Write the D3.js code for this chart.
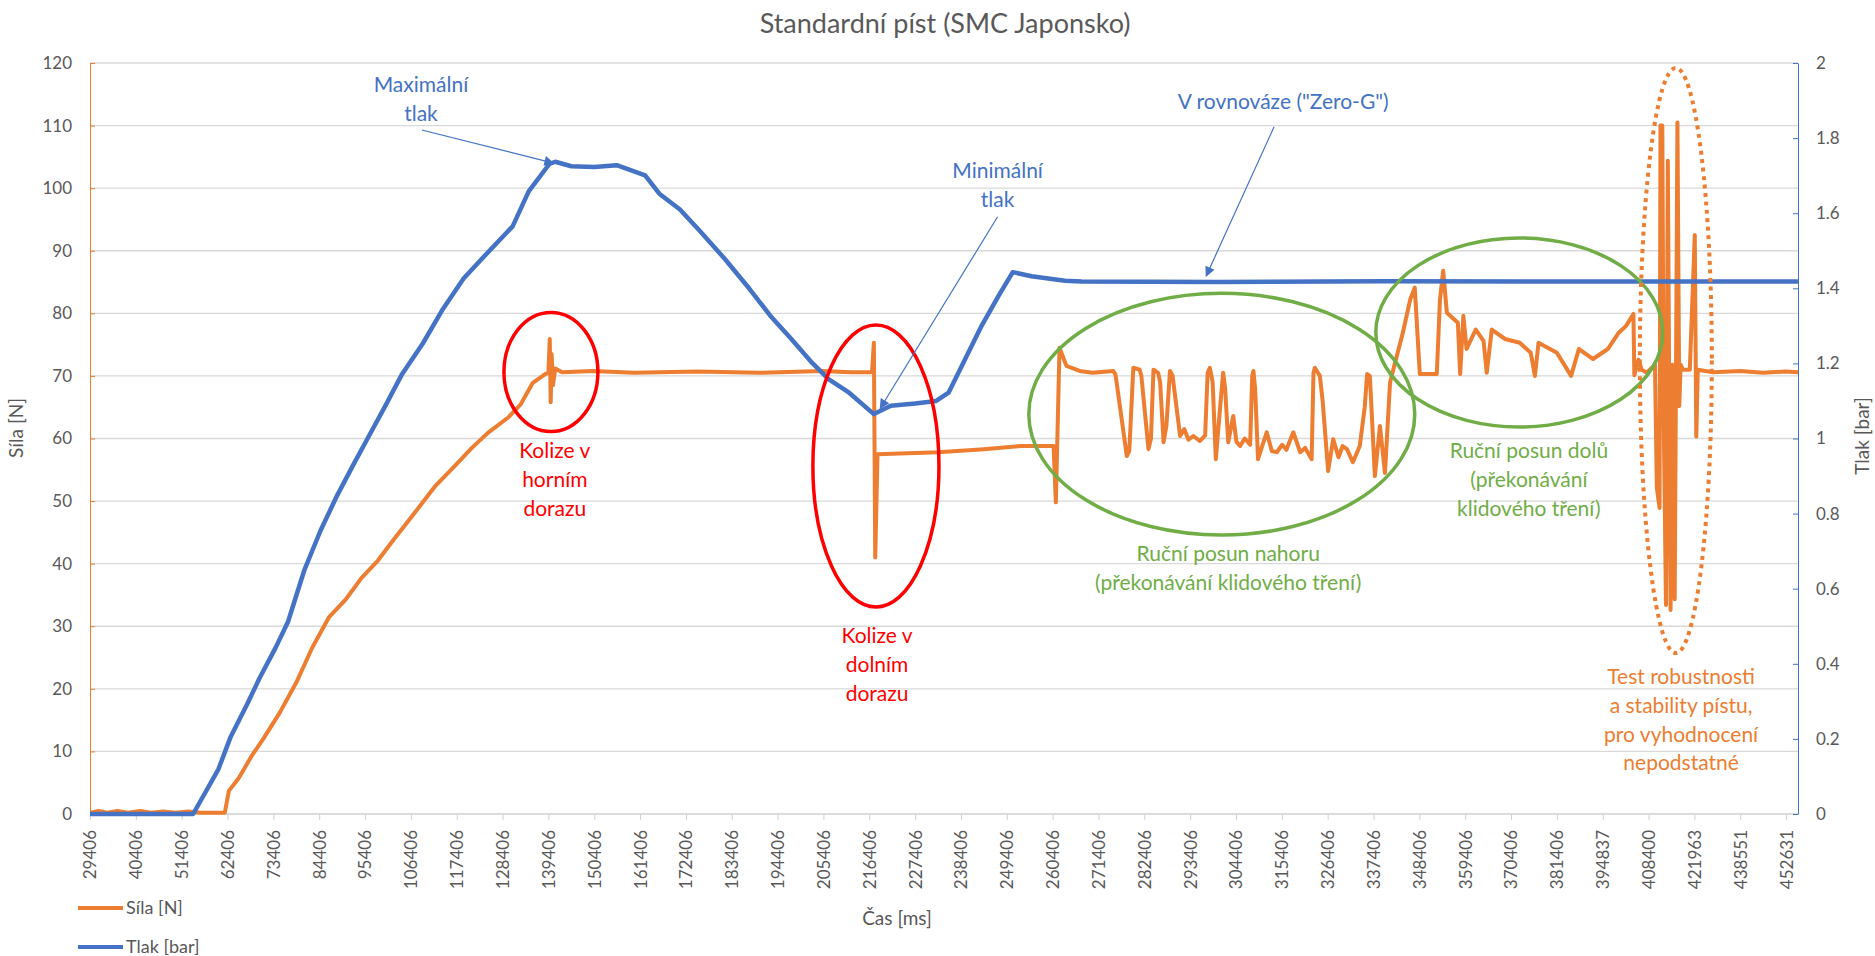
<!DOCTYPE html>
<html><head><meta charset="utf-8">
<script src="https://cdn.jsdelivr.net/npm/d3@7"></script>
<style>
body{margin:0;background:#fff;}
svg text{font-family:Lato,"Open Sans",sans-serif;}
</style></head><body>
<svg id="c" width="1875" height="956"></svg>
<script>
// ---------- data ----------
const timeLabels = [29406,40406,51406,62406,73406,84406,95406,106406,117406,128406,139406,150406,161406,172406,183406,194406,205406,216406,227406,238406,249406,260406,271406,282406,293406,304406,315406,326406,337406,348406,359406,370406,381406,394837,408400,421963,438551,452631];
const forceTicks = [0,10,20,30,40,50,60,70,80,90,100,110,120];
const pressureTicks = [0,0.2,0.4,0.6,0.8,1,1.2,1.4,1.6,1.8,2];

// Tlak [bar] (right axis)
const tlak = [[29406,0],[54156,0],[60206,0.119],[63176,0.206],[67136,0.293],[70106,0.362],[73956,0.443],[76926,0.512],[80886,0.651],[84736,0.755],[88696,0.848],[92546,0.929],[96506,1.010],[100466,1.091],[104316,1.172],[109266,1.253],[114106,1.345],[119056,1.426],[123896,1.484],[128846,1.542],[130826,1.565],[134676,1.658],[139626,1.731],[141056,1.737],[144906,1.725],[150406,1.723],[155796,1.728],[162616,1.701],[166026,1.652],[170976,1.61],[175706,1.553],[181756,1.478],[187696,1.398],[192646,1.327],[197706,1.265],[202656,1.202],[206616,1.158],[211566,1.122],[217506,1.065],[221576,1.087],[227406,1.093],[232466,1.1],[235436,1.122],[239396,1.211],[243356,1.3],[247426,1.38],[250836,1.443],[255346,1.432],[263376,1.42],[267336,1.418],[300000,1.417],[340000,1.419],[400000,1.418],[456292,1.418]];

// Síla [N] (left axis)
const sila = [[29406,0.2],[31500,0.5],[33500,0.2],[36000,0.5],[38500,0.2],[41500,0.5],[44000,0.2],[47000,0.4],[50000,0.2],[53000,0.4],[56000,0.2],[61746,0.2],[62736,3.7],[65156,5.8],[68126,9.2],[70986,12.0],[74946,16.2],[78906,21.0],[82756,26.6],[86716,31.4],[90676,34.2],[94526,37.7],[98486,40.5],[102336,43.9],[107286,48.1],[112126,52.3],[117076,55.7],[121036,58.5],[124886,60.9],[129836,63.4],[132696,65.4],[135666,68.9],[138636,70.3],[139406,70.5],[139736,75.9],[139956,65.8],[140176,73.5],[140506,68.5],[141056,71.2],[142706,70.6],[150000,70.8],[160000,70.5],[175000,70.7],[190000,70.5],[205000,70.8],[212000,70.6],[217066,70.6],[217506,75.3],[217836,41],[218386,57.5],[232906,57.8],[243906,58.3],[252706,58.8],[260626,58.8],[261176,49.8],[262056,74.5],[263706,71.6],[266896,70.8],[270000,70.5],[274926,70.8],[275500,70.2],[278200,57.2],[278800,58],[279766,71.3],[281306,71],[281700,70],[283396,58.3],[284000,60],[284606,71],[285706,70.5],[286200,69],[287026,59.4],[287700,62],[288566,70.8],[289200,70],[290986,60.4],[292000,61.5],[293000,59.8],[294176,60.4],[295716,59.6],[297000,60.5],[297600,70.5],[298136,71.3],[298800,69],[299566,56.7],[300556,64.7],[301326,70.5],[301800,68],[302536,59.4],[303746,63.6],[304500,59.5],[305396,58.8],[306500,60],[307800,59],[308300,70],[308586,70.8],[309000,68],[309686,56.7],[311776,61],[313000,58],[314196,57.8],[315500,59],[316500,58.2],[318156,61],[319806,57.8],[321000,58.5],[322556,56.7],[323000,70.5],[323326,71.3],[324536,70],[325200,66],[326516,54.8],[327726,59.9],[329000,57],[330000,58.8],[331026,58.3],[332456,56.2],[334106,58.8],[335300,65],[335866,70.3],[336526,70],[337736,54],[338946,62],[340156,54.5],[341366,68.9],[342136,71],[344446,76.9],[346206,82.2],[347306,84.1],[348516,70.3],[352586,70.3],[353356,82.2],[354126,86.8],[355006,80.1],[357646,78.5],[358196,70.3],[358966,79.6],[359736,74.3],[361936,77.4],[363806,75.6],[364576,70.5],[365786,77.4],[368976,75.9],[372496,75.3],[375136,73.7],[376126,70],[377006,75.3],[381406,73.7],[385570,70],[387853,74.3],[392017,72.7],[396329,74.3],[399584,76.9],[401754,78],[403924,79.9],[404195,70.1],[405416,72.6],[406366,71],[407858,70.5],[410299,71.8],[410841,52.2],[411655,48.9],[411926,110],[412469,110],[412876,63.6],[413554,33.4],[414097,104.4],[414910,32.6],[415453,71.8],[416131,34.3],[416945,110.5],[417487,65.2],[417894,71.8],[418572,71],[420607,71],[422099,92.5],[422641,60.3],[423184,71],[428745,70.6],[438551,70.8],[445591,70.5],[452631,70.7],[456292,70.6]];

// annotations (data space)
const ellipses = [
 {t1:128736,t2:151286,v1:80.15,v2:61.1,color:"#FF0000",dotted:false},
 {t1:202876,t2:233126,v1:78.14,v2:33.08,color:"#FF0000",dotted:false},
 {t1:254686,t2:347306,v1:83.2,v2:44.58,color:"#70AD47",dotted:false},
 {t1:337956,t2:412605,v1:92.04,v2:61.84,color:"#70AD47",dotted:false},
 {t1:405823,t2:428266,v1:119.2,v2:25.73,color:"#ED7D31",dotted:true}
];
const notes = [
 {t:108826,v:116.5,color:"#4472C4",lines:["Maximální","tlak"]},
 {t:247206,v:102.75,color:"#4472C4",lines:["Minimální","tlak"]},
 {t:315736,v:113.77,color:"#4472C4",lines:["V rovnováze (\"Zero-G\")"]},
 {t:140946,v:58.0,color:"#FF0000",lines:["Kolize v","horním","dorazu"]},
 {t:218276,v:28.44,color:"#FF0000",lines:["Kolize v","dolním","dorazu"]},
 {t:302536,v:41.54,color:"#70AD47",lines:["Ruční posun nahoru","(překonávání klidového tření)"]},
 {t:374696,v:58.0,color:"#70AD47",lines:["Ruční posun dolů","(překonávání","klidového tření)"]},
 {t:418030,v:21.89,color:"#ED7D31",lines:["Test robustnosti","a stability pístu,","pro vyhodnocení","nepodstatné"]}
];
const arrows = [
 {t1:109046,v1:109.3,t2:140616,v2:104.0},
 {t1:247206,v1:95.44,t2:219046,v2:64.83},
 {t1:313536,v1:109.8,t2:297256,v2:85.97}
];

// ---------- layout ----------
const X0=90, XR=1798, YB=814, YT=63, STEP=(1786.08-90)/37;
const GRAY="#595959", ORANGE="#ED7D31", BLUE="#4472C4";
const svg=d3.select("#c");

const x=d3.scaleLinear().domain(timeLabels).range(timeLabels.map((d,i)=>X0+i*STEP));
const yL=d3.scaleLinear().domain([0,120]).range([YB,YT]);
const yR=d3.scaleLinear().domain([0,2]).range([YB,YT]);

// defs
const defs=svg.append("defs");
defs.append("marker").attr("id","ah").attr("viewBox","0 0 10 10").attr("refX",9).attr("refY",5)
 .attr("markerWidth",13).attr("markerHeight",10).attr("markerUnits","userSpaceOnUse").attr("orient","auto")
 .append("path").attr("d","M0,0L10,5L0,10Z").attr("fill",BLUE);
defs.append("clipPath").attr("id","pc").append("rect").attr("x",X0).attr("y",YT-10).attr("width",XR-X0).attr("height",YB-YT+20);

// title
svg.append("text").attr("x",945).attr("y",24).attr("dy","0.35em").attr("text-anchor","middle")
 .attr("font-size",27).attr("fill",GRAY).text("Standardní píst (SMC Japonsko)");

// gridlines
svg.append("g").selectAll("line").data(forceTicks.filter(d=>d>0)).join("line")
 .attr("x1",X0).attr("x2",XR).attr("y1",d=>yL(d)).attr("y2",d=>yL(d))
 .attr("stroke","#d9d9d9").attr("stroke-width",1.3);

// bottom axis
const gx=svg.append("g").attr("transform",`translate(0,${YB})`)
 .call(d3.axisBottom(x).tickValues(timeLabels).tickSizeInner(6).tickSizeOuter(0).tickFormat(d=>String(d)));
gx.select(".domain").remove();
gx.selectAll(".tick line").attr("stroke","#d0d0d0");
gx.selectAll(".tick text").attr("transform","rotate(-90)").attr("x",-16).attr("y",0).attr("dy","0.35em")
 .attr("text-anchor","end").attr("font-size",17).attr("fill",GRAY);
svg.append("line").attr("x1",X0).attr("x2",XR).attr("y1",YB).attr("y2",YB).attr("stroke","#d0d0d0").attr("stroke-width",1.5);

// left axis
const gl=svg.append("g").attr("transform",`translate(${X0},0)`)
 .call(d3.axisLeft(yL).tickValues(forceTicks).tickSizeInner(-5).tickSizeOuter(0).tickPadding(18));
gl.select(".domain").attr("stroke",ORANGE);
gl.selectAll(".tick line").attr("stroke",ORANGE);
gl.selectAll(".tick text").attr("font-size",17).attr("fill",GRAY);

// right axis
const gr=svg.append("g").attr("transform",`translate(${XR},0)`)
 .call(d3.axisRight(yR).tickValues(pressureTicks).tickSizeInner(-5).tickSizeOuter(0).tickPadding(18)
 .tickFormat(d=>String(+d.toFixed(1))));
gr.select(".domain").attr("stroke",BLUE);
gr.selectAll(".tick line").attr("stroke",BLUE);
gr.selectAll(".tick text").attr("font-size",17).attr("fill",GRAY);

// axis titles
svg.append("text").attr("transform","translate(16,428) rotate(-90)").attr("text-anchor","middle").attr("dy","0.35em")
 .attr("font-size",19).attr("fill",GRAY).text("Síla [N]");
svg.append("text").attr("transform","translate(1862,436) rotate(-90)").attr("text-anchor","middle").attr("dy","0.35em")
 .attr("font-size",19).attr("fill",GRAY).text("Tlak [bar]");
svg.append("text").attr("x",897).attr("y",918).attr("text-anchor","middle").attr("dy","0.35em")
 .attr("font-size",19).attr("fill",GRAY).text("Čas [ms]");

// series
const plot=svg.append("g").attr("clip-path","url(#pc)");
plot.append("path").datum(sila).attr("fill","none").attr("stroke",ORANGE).attr("stroke-width",4)
 .attr("stroke-linejoin","round").attr("d",d3.line().x(d=>x(d[0])).y(d=>yL(d[1])));
plot.append("path").datum(tlak).attr("fill","none").attr("stroke",BLUE).attr("stroke-width",4.5)
 .attr("stroke-linejoin","round").attr("d",d3.line().x(d=>x(d[0])).y(d=>yR(d[1])));

// ellipses
svg.append("g").selectAll("ellipse").data(ellipses).join("ellipse")
 .attr("cx",d=>(x(d.t1)+x(d.t2))/2).attr("cy",d=>(yL(d.v1)+yL(d.v2))/2)
 .attr("rx",d=>Math.abs(x(d.t2)-x(d.t1))/2).attr("ry",d=>Math.abs(yL(d.v2)-yL(d.v1))/2)
 .attr("fill","none").attr("stroke",d=>d.color).attr("stroke-width",d=>d.dotted?4:3.5)
 .attr("stroke-dasharray",d=>d.dotted?"4 4.5":null);

// arrows
svg.append("g").selectAll("line").data(arrows).join("line")
 .attr("x1",d=>x(d.t1)).attr("y1",d=>yL(d.v1)).attr("x2",d=>x(d.t2)).attr("y2",d=>yL(d.v2))
 .attr("stroke",BLUE).attr("stroke-width",1.2).attr("marker-end","url(#ah)");

// notes
const LH=28.7;
const ng=svg.append("g").selectAll("text").data(notes).join("text")
 .attr("text-anchor","middle").attr("font-size",21).attr("fill",d=>d.color);
ng.each(function(d){
 const t=d3.select(this);
 d.lines.forEach((s,i)=>{
  t.append("tspan").attr("x",x(d.t)).attr("y",yL(d.v)+i*LH).attr("dy","0.35em").text(s);
 });
});

// legend
const legend=[{name:"Síla [N]",color:ORANGE,y:908},{name:"Tlak [bar]",color:BLUE,y:947}];
const lg=svg.append("g").selectAll("g").data(legend).join("g");
lg.append("line").attr("x1",78).attr("x2",123).attr("y1",d=>d.y).attr("y2",d=>d.y).attr("stroke",d=>d.color).attr("stroke-width",4);
lg.append("text").attr("x",126).attr("y",d=>d.y).attr("dy","0.35em").attr("font-size",18).attr("fill",GRAY).text(d=>d.name);
</script>
</body></html>
